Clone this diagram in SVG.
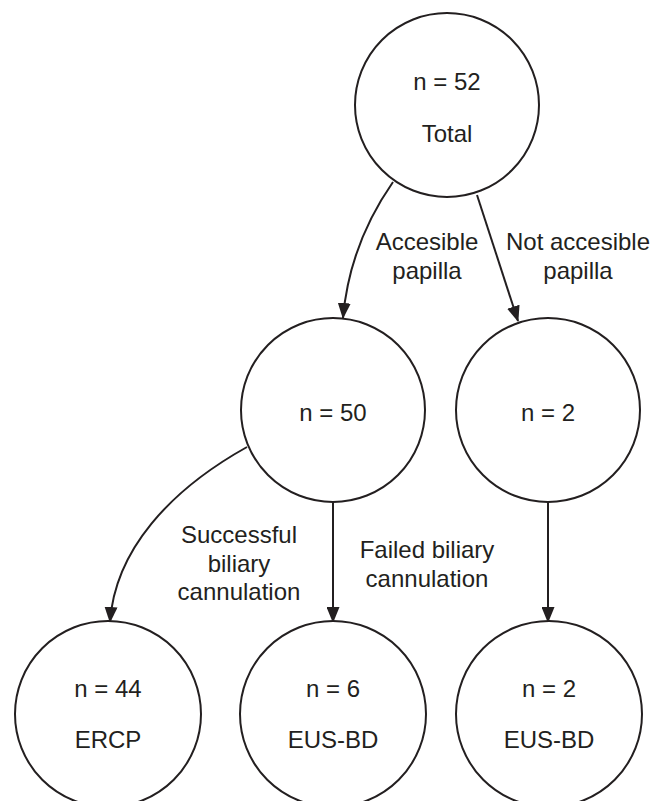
<svg xmlns="http://www.w3.org/2000/svg" width="667" height="801" viewBox="0 0 667 801">
<style>
.node circle{fill:#fff;stroke:#231f20;stroke-width:2}
text{font-family:"Liberation Sans",Arial,sans-serif;font-size:24px;fill:#231f20;text-anchor:middle}
.edge{fill:none;stroke:#231f20;stroke-width:2;marker-end:url(#arr)}
</style>
<defs>
<marker id="arr" viewBox="0 0 16 13" refX="15" refY="6.5" markerWidth="16" markerHeight="13" markerUnits="userSpaceOnUse" orient="auto">
<path d="M0,0 L16,6.5 L0,13 Z" fill="#231f20"/>
</marker>
</defs>
<g id="connectors">
<path class="edge" d="M393,182 C370,215 348,260 343,318"/>
<path class="edge" d="M477,195 L518,321"/>
<path class="edge" d="M247,447 C170,490 115,550 110,622"/>
<path class="edge" d="M333,502 L333,622"/>
<path class="edge" d="M548,502 L548,622"/>
<text x="427" y="250">Accesible</text>
<text x="427" y="279">papilla</text>
<text x="578" y="250">Not accesible</text>
<text x="578" y="279">papilla</text>
<text x="239" y="543">Successful</text>
<text x="239" y="572">biliary</text>
<text x="239" y="600">cannulation</text>
<text x="427" y="558">Failed biliary</text>
<text x="427" y="587">cannulation</text>
</g>
<g id="total" class="node"><circle cx="447" cy="105" r="92"/><text x="447" y="90">n = 52</text><text x="447" y="142">Total</text></g>
<g id="n50" class="node"><circle cx="333" cy="410" r="92"/><text x="333" y="421">n = 50</text></g>
<g id="n2a" class="node"><circle cx="548" cy="410" r="92"/><text x="548" y="421">n = 2</text></g>
<g id="ercp" class="node"><circle cx="108" cy="714" r="93"/><text x="108" y="697">n = 44</text><text x="108" y="748">ERCP</text></g>
<g id="eus1" class="node"><circle cx="333" cy="714" r="93"/><text x="333" y="697">n = 6</text><text x="333" y="748">EUS-BD</text></g>
<g id="eus2" class="node"><circle cx="549" cy="714" r="93"/><text x="549" y="697">n = 2</text><text x="549" y="748">EUS-BD</text></g>
</svg>
